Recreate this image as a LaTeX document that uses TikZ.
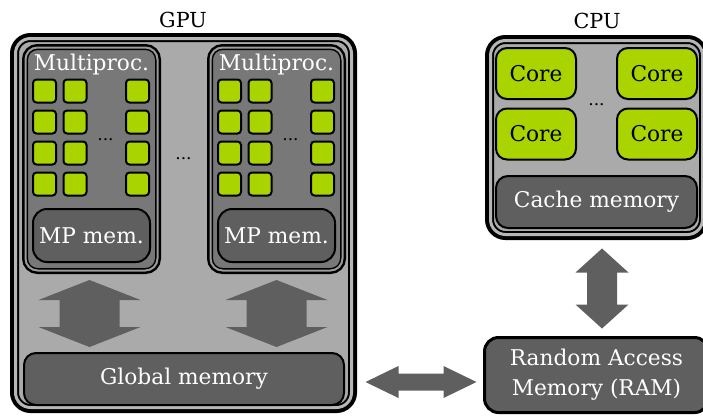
\documentclass[tikz,border=0pt]{standalone}
\usepackage{fontspec}
\setmainfont{DejaVu Serif}
\usetikzlibrary{calc}
\definecolor{lgray}{RGB}{170,170,170}
\definecolor{lband}{RGB}{182,182,182}
\definecolor{mgray}{RGB}{120,120,120}
\definecolor{mband}{RGB}{155,155,155}
\definecolor{dgray}{RGB}{95,95,95}
\definecolor{cgreen}{RGB}{170,212,0}
\newcommand{\lbltext}{\fontsize{21.7}{30}\selectfont}
\newcommand{\ttltext}{\fontsize{20.7}{25}\selectfont}
\newcommand{\dotsztext}{\fontsize{17}{20}\selectfont}
\newcommand{\vdarrow}[5]{%
  \fill[arrowfill] (#1) -- ++(#3,#5) -- ++(#4-#3,0) -- ($(#2)+(#4,-#5)$) -- ++(#3-#4,0) -- (#2)
    -- ++(-#3,-#5) -- ++(#3-#4,0) -- ($(#1)+(-#4,#5)$) -- ++(#4-#3,0) -- cycle;}
\newcommand{\hdarrow}[5]{%
  \fill[arrowfill] (#1) -- ++(#5,-#3) -- ++(0,#3-#4) -- ($(#2)+(-#5,-#4)$) -- ++(0,#4-#3) -- (#2)
    -- ++(-#5,#3) -- ++(0,#4-#3) -- ($(#1)+(#5,#4)$) -- ++(0,#3-#4) -- cycle;}
\tikzset{
  big/.style={rectangle, inner sep=0pt, rounded corners=15pt, fill=lgray, draw=black, line width=7pt,
    preaction={draw=black, line width=11pt}, postaction={draw=lband, line width=3pt}},
  mp/.style={rectangle, inner sep=0pt, rounded corners=12pt, fill=mgray, draw=black, line width=5pt,
    preaction={draw=black, line width=7pt}, postaction={draw=mband, line width=2pt}},
  dark/.style={rectangle, inner sep=0pt, rounded corners=12pt, fill=dgray, draw=black, line width=2pt,
    text=white, font=\lbltext},
  sq/.style={rectangle, inner sep=0pt, rounded corners=3.5pt, fill=cgreen, draw=black, line width=2pt,
    minimum size=23pt},
  core/.style={rectangle, inner sep=0pt, rounded corners=11pt, fill=cgreen, draw=black, line width=2pt,
    minimum width=80pt, minimum height=51pt, font=\lbltext},
  lbl/.style={inner sep=0pt, anchor=base, font=\lbltext},
  ttl/.style={inner sep=0pt, anchor=base, font=\ttltext},
  dts/.style={inner sep=0pt, anchor=base, font=\dotsztext},
  arrowfill/.style={fill=dgray},
}
\begin{document}
\begin{tikzpicture}[x=1pt,y=-1pt]
\useasboundingbox (0,0) rectangle (703,416);
% titles
\node[ttl] (gputitle) at (183,27) {GPU};
\node[ttl] (cputitle) at (597,28) {CPU};
% GPU
\node[big, minimum width=336pt, minimum height=369pt] (gpu) at (183.5,223) {};
\node[mp, minimum width=132pt, minimum height=223pt] (mpA) at (91.5,159) {};
\node[mp, minimum width=132pt, minimum height=223pt] (mpB) at (276.5,159) {};
\node[lbl, text=white] (mpAlab) at (91.5,70) {Multiproc.};
\node[lbl, text=white] (mpBlab) at (276.5,70) {Multiproc.};
\foreach \r/\yy in {1/91,2/122,3/153,4/184}{
  \foreach \c/\dx in {1/-47,2/-16.5,3/46}{
    \node[sq] (sqA\r\c) at (91.5+\dx,\yy) {};
    \node[sq] (sqB\r\c) at (276.5+\dx,\yy) {};
  }
}
\node[dts] (dotsA) at (105.5,140) {...};
\node[dts] (dotsB) at (290.5,140) {...};
\node[dts] (dotsG) at (183.5,159) {...};
\node[dark, minimum width=117pt, minimum height=53pt, rounded corners=14pt] (memA) at (91.5,235.5) {MP mem.};
\node[dark, minimum width=117pt, minimum height=53pt, rounded corners=14pt] (memB) at (276.5,235.5) {MP mem.};
\node[dark, minimum width=320pt, minimum height=52pt] (gm) at (184,379) {Global memory};
% CPU
\node[big, minimum width=212pt, minimum height=194pt] (cpu) at (596.5,137.5) {};
\node[core] (core1) at (536,73.5) {Core};
\node[core] (core2) at (657,73.5) {Core};
\node[core] (core3) at (536,134) {Core};
\node[core] (core4) at (657,134) {Core};
\node[dts] (dotsC) at (596.5,105) {...};
\node[dark, minimum width=201pt, minimum height=52pt] (cache) at (596.5,202) {Cache memory};
% RAM
\node[dark, line width=3pt, minimum width=224pt, minimum height=75pt, align=center, rounded corners=14pt] (ram) at (596.5,375) {Random Access\\Memory (RAM)};
% arrows
\coordinate (aAt) at ($(mpA.south)+(-2,7)$);
\coordinate (aAb) at ($(aAt |- gm.north)+(0,-5)$);
\vdarrow{aAt}{aAb}{51}{30}{20}
\coordinate (aBt) at ($(mpB.south)+(0,7)$);
\coordinate (aBb) at ($(aBt |- gm.north)+(0,-5)$);
\vdarrow{aBt}{aBb}{51}{30}{20}
\coordinate (cT) at ($(cpu.south)+(5.5,10.5)$);
\coordinate (cB) at ($(cT |- ram.north)+(0,-7.5)$);
\vdarrow{cT}{cB}{26.5}{15}{24}
\coordinate (hL) at ($(gpu.east |- gm.center)+(10.5,3)$);
\coordinate (hR) at ($(hL -| ram.west)+(-6.5,0)$);
\hdarrow{hL}{hR}{16}{8.5}{33}
\end{tikzpicture}
\end{document}
